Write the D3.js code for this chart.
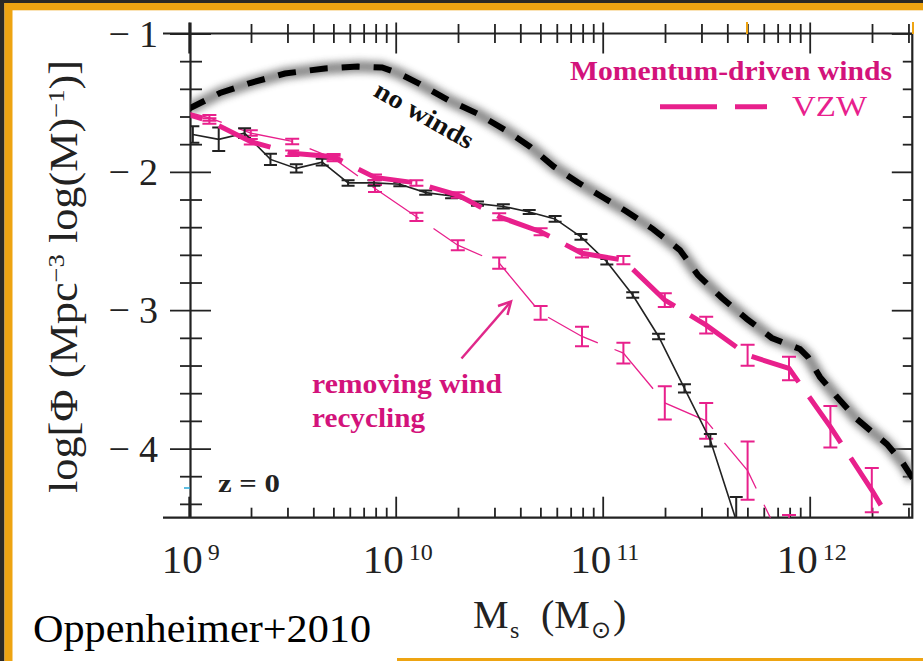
<!DOCTYPE html>
<html>
<head>
<meta charset="utf-8">
<script src="https://cdn.jsdelivr.net/npm/d3@7"></script>
<style>
  html, body { margin: 0; padding: 0; background: #fff; }
  svg { display: block; }
</style>
</head>
<body>
<svg id="chart" width="923" height="661"></svg>
<script>
// ---------------- DATA ----------------
// x axis major ticks (decades) and their labels (exponents)
const xMajorTicks = [1e9, 1e10, 1e11, 1e12];
const xTickExponents = ["9", "10", "11", "12"];
// y axis major ticks and labels
const yMajorTicks = [-1, -2, -3, -4];
const yTickLabels = ["\u22121", "\u22122", "\u22123", "\u22124"];

// "no winds" (thick dashed black with glow): log10 M*, log Phi
const noWindsLogM = [9.0, 9.151, 9.296, 9.465, 9.658, 9.818, 9.934, 10.011, 10.108, 10.253, 10.393, 10.533, 10.649, 10.765, 10.881, 11.006, 11.117, 11.243, 11.373, 11.46, 11.576, 11.697, 11.817, 11.904, 11.953, 11.992, 12.05, 12.132, 12.228, 12.291, 12.373, 12.45, 12.5];
const noWindsPhi  = [-1.545, -1.43, -1.358, -1.289, -1.253, -1.239, -1.246, -1.286, -1.358, -1.481, -1.578, -1.701, -1.818, -1.963, -2.077, -2.189, -2.288, -2.414, -2.565, -2.746, -2.912, -3.064, -3.201, -3.252, -3.281, -3.339, -3.484, -3.628, -3.787, -3.867, -3.968, -4.105, -4.22];

// Black solid line with error bars (observations)
const obsLogM = [9.02, 9.145, 9.27, 9.395, 9.52, 9.645, 9.77, 9.895, 10.02, 10.145, 10.27, 10.395, 10.52, 10.645, 10.77, 10.895, 11.02, 11.145, 11.27, 11.395, 11.52, 11.645];
const obsPhi  = [-1.73, -1.765, -1.72, -1.91, -1.975, -1.93, -2.08, -2.08, -2.09, -2.15, -2.175, -2.23, -2.25, -2.29, -2.34, -2.47, -2.65, -2.89, -3.19, -3.565, -3.94, -4.52];
const obsErr  = [0.06, 0.085, 0.035, 0.04, 0.03, 0.025, 0.02, 0.02, 0.015, 0.015, 0.015, 0.015, 0.015, 0.015, 0.02, 0.02, 0.02, 0.02, 0.02, 0.03, 0.045, 0.17];

// VZW momentum-driven winds (thick pink dashed)
const vzwLogM = [8.9, 9.1, 9.3, 9.5, 9.7, 9.9, 10.1, 10.3, 10.5, 10.7, 10.9, 11.1, 11.3, 11.5, 11.7, 11.9, 12.1, 12.3, 12.5];
const vzwPhi  = [-1.54, -1.633, -1.782, -1.866, -1.891, -2.04, -2.08, -2.168, -2.325, -2.433, -2.589, -2.638, -2.927, -3.108, -3.325, -3.421, -3.843, -4.30, -4.80];
const vzwErr  = [0, 0.02, 0.02, 0.02, 0.02, 0.02, 0.02, 0.02, 0.025, 0.025, 0.03, 0.03, 0.05, 0.06, 0.076, 0.085, 0.15, 0.16, 0.2];

// removing wind recycling (thin pink dashed)
const noRecLogM = [8.9, 9.1, 9.3, 9.5, 9.7, 9.9, 10.1, 10.3, 10.5, 10.7, 10.9, 11.1, 11.3, 11.5, 11.7, 11.9];
const noRecPhi  = [-1.53, -1.61, -1.72, -1.78, -1.903, -2.12, -2.325, -2.53, -2.66, -3.02, -3.19, -3.31, -3.67, -3.80, -4.16, -4.78];
const noRecErr  = [0, 0.02, 0.02, 0.02, 0.02, 0.025, 0.03, 0.036, 0.04, 0.05, 0.07, 0.075, 0.12, 0.13, 0.21, 0.3];

// ---------------- LAYOUT ----------------
const svg = d3.select("#chart");
const L = 190.5, R = 912.3, T = 33.5, B = 517.7;
const INK = "#222";
const PINK = "#e8208c";
const MAGENTA = "#d3137b";
const SERIF = "'Liberation Serif', 'Times New Roman', serif";

const x = d3.scaleLog().domain([1e9, Math.pow(10, 12.5)]).range([188.7, 913.2]);
const y = d3.scaleLinear().domain([-4.5, -1]).range([B, T]);

// background & slide frame
svg.append("rect").attr("width", 923).attr("height", 661).attr("fill", "#fff");
svg.append("rect").attr("x", 0).attr("y", 0).attr("width", 923).attr("height", 3).attr("fill", "#2c2925");
svg.append("rect").attr("x", 0).attr("y", 0).attr("width", 4.5).attr("height", 661).attr("fill", "#2c2925");
svg.append("rect").attr("x", 4.5).attr("y", 3).attr("width", 918.5).attr("height", 7.3).attr("fill", "#eea412");
svg.append("rect").attr("x", 4.5).attr("y", 3).attr("width", 8).attr("height", 658).attr("fill", "#eea412");
svg.append("rect").attr("x", 397).attr("y", 658).attr("width", 526).attr("height", 3).attr("fill", "#eea412");

const defs = svg.append("defs");
defs.append("clipPath").attr("id", "plotclip")
  .append("rect").attr("x", L).attr("y", T).attr("width", R - L).attr("height", B - T);
const glow = defs.append("filter").attr("id", "glow")
  .attr("x", "-20%").attr("y", "-20%").attr("width", "140%").attr("height", "140%");
glow.append("feGaussianBlur").attr("stdDeviation", 3.6);

// ---------------- AXES ----------------
const xAll = x.ticks().filter(v => x(v) >= 186 && x(v) <= R + 1);
const isMajorX = v => xMajorTicks.some(m => Math.abs(m - v) / m < 1e-6);
const yAll = d3.range(-44, -9, 2).map(v => v / 10);
const isMajorY = v => yMajorTicks.some(m => Math.abs(m - v) < 1e-6);

function styleTicks(g) {
  g.select(".domain").remove();
  g.selectAll(".tick line").attr("stroke", INK).attr("stroke-width", 1.8);
  g.selectAll(".tick text").remove();
}

// bottom (ticks inward)
svg.append("g").attr("transform", `translate(0,${B})`)
  .call(d3.axisBottom(x).tickValues(xAll).tickSize(0).tickFormat(""))
  .call(styleTicks)
  .selectAll(".tick line").attr("y1", 0).attr("y2", d => isMajorX(d) ? -21 : -10);

// top (ticks both ways)
svg.append("g").attr("transform", `translate(0,${T})`)
  .call(d3.axisTop(x).tickValues(xAll).tickSize(0).tickFormat(""))
  .call(styleTicks)
  .selectAll(".tick line").attr("y1", d => isMajorX(d) ? 20 : 9.5).attr("y2", d => isMajorX(d) ? -11 : -9.5);

// left (ticks both ways)
svg.append("g").attr("transform", `translate(${L},0)`)
  .call(d3.axisLeft(y).tickValues(yAll).tickSize(0).tickFormat(""))
  .call(styleTicks)
  .selectAll(".tick line").attr("x1", d => isMajorY(d) ? 20.5 : 11.5).attr("x2", d => isMajorY(d) ? -20.5 : -10.5);

// right (ticks inward)
svg.append("g").attr("transform", `translate(${R},0)`)
  .call(d3.axisRight(y).tickValues(yAll).tickSize(0).tickFormat(""))
  .call(styleTicks)
  .selectAll(".tick line").attr("x1", 0).attr("x2", d => isMajorY(d) ? -20.5 : -9.5);

// frame
svg.append("path")
  .attr("d", `M163,${T}H${R}V${B}H163M${L},${T - 11}V${B}`)
  .attr("fill", "none").attr("stroke", INK).attr("stroke-width", 2.2);

// small orange / cyan artifacts
svg.append("path").attr("d", `M747,22V34M913,22V34`).attr("stroke", "#eea412").attr("stroke-width", 2);
svg.append("path").attr("d", `M184,488H190`).attr("stroke", "#29a8d8").attr("stroke-width", 1.5);

// x tick labels
xMajorTicks.forEach((v, i) => {
  const t = svg.append("text")
    .attr("x", x(v) + 2).attr("y", 572.7)
    .attr("text-anchor", "middle")
    .attr("font-family", SERIF).attr("font-size", 41).attr("fill", INK);
  t.append("tspan").text("10");
  t.append("tspan").attr("dx", 5).attr("dy", -12.7).attr("font-size", 24).text(xTickExponents[i]);
});

// y tick labels
yMajorTicks.forEach((v, i) => {
  const t = svg.append("text")
    .attr("x", 158).attr("y", y(v) + 13)
    .attr("text-anchor", "end")
    .attr("font-family", SERIF).attr("font-size", 38).attr("fill", INK);
  t.append("tspan").text(yTickLabels[i].charAt(0));
  t.append("tspan").attr("dx", 9).text(yTickLabels[i].slice(1));
});

// axis titles
const xt = svg.append("text").attr("y", 628).attr("font-family", SERIF).attr("font-size", 40).attr("fill", INK);
xt.append("tspan").attr("x", 473).text("M");
xt.append("tspan").attr("x", 510).attr("dy", 10).attr("font-size", 24).text("s");
xt.append("tspan").attr("x", 541).attr("dy", -10).text("(M");
xt.append("tspan").attr("x", 591).attr("dy", 10).attr("font-size", 24).attr("font-family", "'DejaVu Sans', sans-serif").text("\u2299");
xt.append("tspan").attr("x", 613).attr("dy", -10).text(")");

const yt = svg.append("text")
  .attr("transform", "translate(77,276.5) rotate(-90)")
  .attr("text-anchor", "middle")
  .attr("font-family", SERIF).attr("font-size", 40).attr("fill", INK)
  .attr("textLength", 433).attr("lengthAdjust", "spacingAndGlyphs");
yt.append("tspan").text("log[\u03A6  (Mpc");
yt.append("tspan").attr("dy", -13).attr("font-size", 24).text("\u22123");
yt.append("tspan").attr("dy", 13).text(" log(M)");
yt.append("tspan").attr("dy", -13).attr("font-size", 24).text("\u22121");
yt.append("tspan").attr("dy", 13).text(")]");

// ---------------- DATA MARKS ----------------
const plot = svg.append("g").attr("clip-path", "url(#plotclip)");
const line = d3.line().x(d => x(Math.pow(10, d.m))).y(d => y(d.p));
const zip = (ms, ps, es) => ms.map((m, i) => ({ m, p: ps[i], e: es ? es[i] : 0 }));

function errorBars(g, data, color, halfCap, sw) {
  g.selectAll(null).data(data.filter(d => d.e > 0)).join("path")
    .attr("d", d => {
      const X = x(Math.pow(10, d.m)), y1 = y(d.p + d.e), y2 = y(d.p - d.e);
      return `M${X - halfCap},${y1}H${X + halfCap}M${X},${y1}V${y2}M${X - halfCap},${y2}H${X + halfCap}`;
    })
    .attr("fill", "none").attr("stroke", color).attr("stroke-width", sw);
}

// no winds: glow + dashed black
const nw = zip(noWindsLogM, noWindsPhi);
plot.append("path").datum(nw).attr("d", line)
  .attr("fill", "none").attr("stroke", "#7a7a7a").attr("stroke-width", 12)
  .attr("stroke-linejoin", "round").attr("filter", "url(#glow)").attr("opacity", 0.85);
plot.append("path").datum(nw).attr("d", line)
  .attr("fill", "none").attr("stroke", "#000").attr("stroke-width", 6)
  .attr("stroke-dasharray", "18,14");

// removing wind recycling: thin pink dashed
const nr = zip(noRecLogM, noRecPhi, noRecErr);
plot.append("path").datum(nr).attr("d", line)
  .attr("fill", "none").attr("stroke", PINK).attr("stroke-width", 1.3)
  .attr("stroke-dasharray", "56,18");
errorBars(plot, nr, PINK, 7, 2);

// observations: black solid
const ob = zip(obsLogM, obsPhi, obsErr);
plot.append("path").datum(ob).attr("d", line)
  .attr("fill", "none").attr("stroke", INK).attr("stroke-width", 1.6);
errorBars(plot, ob, INK, 6.5, 2);

// VZW: thick pink dashed
const vz = zip(vzwLogM, vzwPhi, vzwErr);
plot.append("path").datum(vz).attr("d", line)
  .attr("fill", "none").attr("stroke", PINK).attr("stroke-width", 5)
  .attr("stroke-dasharray", "56,18").attr("stroke-dashoffset", 20);
errorBars(plot, vz, PINK, 7, 2);

// ---------------- ANNOTATIONS ----------------
svg.append("text").attr("x", 570).attr("y", 80)
  .attr("font-family", SERIF).attr("font-weight", "bold").attr("font-size", 28).attr("fill", MAGENTA)
  .attr("textLength", 322).attr("lengthAdjust", "spacingAndGlyphs")
  .text("Momentum-driven winds");
svg.append("line").attr("x1", 660).attr("x2", 767).attr("y1", 106.7).attr("y2", 106.7)
  .attr("stroke", PINK).attr("stroke-width", 5).attr("stroke-dasharray", "57,18");
svg.append("text").attr("x", 792).attr("y", 116)
  .attr("font-family", SERIF).attr("font-size", 29).attr("fill", PINK)
  .attr("textLength", 75).attr("lengthAdjust", "spacingAndGlyphs")
  .text("VZW");

svg.append("text")
  .attr("transform", "translate(420,122.5) rotate(29.7)")
  .attr("text-anchor", "middle")
  .attr("font-family", SERIF).attr("font-weight", "bold").attr("font-size", 26).attr("fill", "#111")
  .attr("textLength", 110).attr("lengthAdjust", "spacingAndGlyphs")
  .text("no winds");

svg.append("text").attr("x", 312).attr("y", 393.3)
  .attr("font-family", SERIF).attr("font-weight", "bold").attr("font-size", 28).attr("fill", MAGENTA)
  .attr("textLength", 190).attr("lengthAdjust", "spacingAndGlyphs")
  .text("removing wind");
svg.append("text").attr("x", 312).attr("y", 426.7)
  .attr("font-family", SERIF).attr("font-weight", "bold").attr("font-size", 28).attr("fill", MAGENTA)
  .attr("textLength", 113).attr("lengthAdjust", "spacingAndGlyphs")
  .text("recycling");

// arrow
svg.append("path").attr("d", "M461.5,358.5L510.5,302")
  .attr("stroke", "#e0288a").attr("stroke-width", 2.5).attr("fill", "none");
svg.append("path").attr("d", "M498,306L511,301.5L507.5,315")
  .attr("stroke", "#e0288a").attr("stroke-width", 2.5).attr("fill", "none").attr("stroke-linejoin", "miter");

svg.append("text").attr("x", 218).attr("y", 492.3)
  .attr("font-family", SERIF).attr("font-weight", "bold").attr("font-size", 26).attr("fill", INK)
  .attr("textLength", 62).attr("lengthAdjust", "spacingAndGlyphs")
  .text("z = 0");

svg.append("text").attr("x", 33).attr("y", 641.7)
  .attr("font-family", SERIF).attr("font-size", 40).attr("fill", "#000")
  .attr("textLength", 338).attr("lengthAdjust", "spacingAndGlyphs")
  .text("Oppenheimer+2010");
</script>
</body>
</html>
